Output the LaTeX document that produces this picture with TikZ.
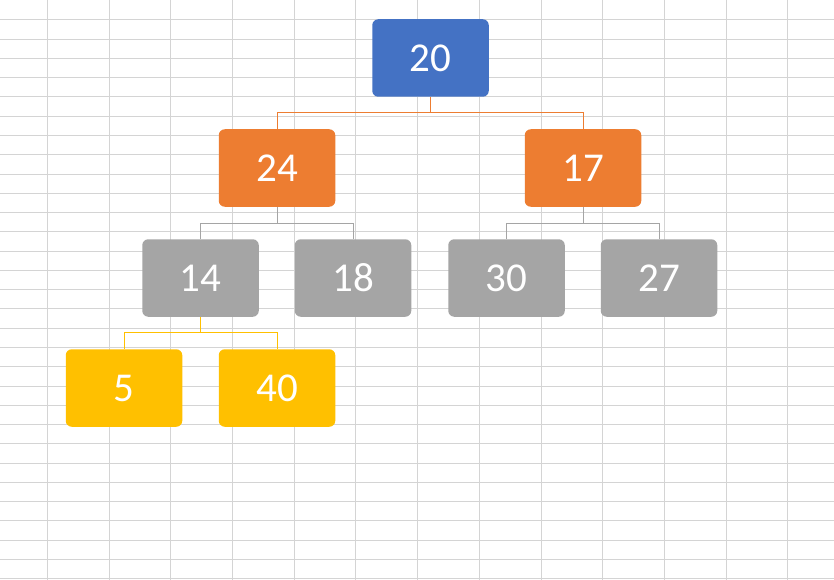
\documentclass[tikz,border=0pt]{standalone}
\usepackage{fontspec}
\setmainfont{Carlito}
\usetikzlibrary{positioning, calc}

\definecolor{treeblue}{HTML}{4472C4}
\definecolor{treeorange}{HTML}{ED7D31}
\definecolor{treegray}{HTML}{A5A5A5}
\definecolor{treeyellow}{HTML}{FFC000}
\definecolor{gridline}{HTML}{D4D4D4}

\begin{document}
\begin{tikzpicture}[
    x=1pt, y=-1pt,
    box/.style={rectangle, rounded corners=6pt, minimum width=116.5pt, minimum height=77.5pt,
        inner sep=0pt, text=white, font=\fontsize{41}{49}\selectfont},
    link/.style={draw=#1, line width=1pt}
]

% Sheet background
\useasboundingbox (0,0) rectangle (834,580);
\fill[white] (0,0) rectangle (834,580);
\foreach \gx in {47,109,170,232,294,355,417,479,541,602,664,726,787}
    \draw[gridline, line width=1.1pt] (\gx+0.5,0) -- (\gx+0.5,580);
\foreach \gy in {19,39,58,77,96,116,135,154,174,193,212,231,251,270,289,308,328,347,366,386,405,424,443,463,482,501,520,540,559,578}
    \draw[gridline, line width=1.1pt] (0,\gy+0.5) -- (834,\gy+0.5);

% Root
\node[box, fill=treeblue] (n20) at (430.5,58) {20};

% Level 1
\node[box, fill=treeorange] (n24) at (277,168) {24};
\node[box, fill=treeorange] (n17) at (583,168) {17};

% Level 2
\node[box, fill=treegray] (n14) at (200.5,278) {14};
\node[box, fill=treegray] (n18) at (353,278) {18};
\node[box, fill=treegray] (n30) at (506.5,278) {30};
\node[box, fill=treegray] (n27) at (659,278) {27};

% Level 3
\node[box, fill=treeyellow] (n5) at (124,388) {5};
\node[box, fill=treeyellow] (n40) at (277,388) {40};

\draw[link=treeorange] (n20.south) -- ++(0,16) -| (n24.north);
\draw[link=treeorange] (n20.south) -- ++(0,16) -| (n17.north);
\draw[link=treegray] (n24.south) -- ++(0,16.5) -| (n14.north);
\draw[link=treegray] (n24.south) -- ++(0,16.5) -| (n18.north);
\draw[link=treegray] (n17.south) -- ++(0,16.5) -| (n30.north);
\draw[link=treegray] (n17.south) -- ++(0,16.5) -| (n27.north);
\draw[link=treeyellow] (n14.south) -- ++(0,16) -| (n5.north);
\draw[link=treeyellow] (n14.south) -- ++(0,16) -| (n40.north);

\end{tikzpicture}
\end{document}
